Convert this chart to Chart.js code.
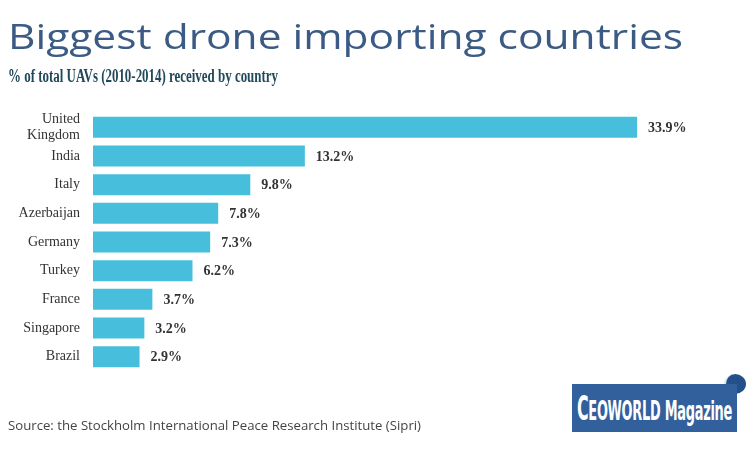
<!doctype html>
<html lang="en">
<head>
  <meta charset="utf-8">
  <title>Biggest drone importing countries</title>
  <script src="https://cdn.jsdelivr.net/npm/chart.js"></script>
  <style>
    html,body{margin:0;padding:0;background:#fff;}
    .page{position:relative;width:750px;height:450px;overflow:hidden;}
    .page canvas{position:absolute;left:0;top:0;}
    .fit{position:absolute;white-space:nowrap;transform-origin:0 0;}
    #title{left:8px;top:12px;font:500 35px "Open Sans",sans-serif;color:#3b5b84;}
    #subtitle{left:8px;top:66px;font:700 18px "Liberation Serif",serif;color:#21495a;}
    #source{left:8px;top:416px;font:400 13px "Open Sans",sans-serif;color:#444;}
    /* logo */
    .globe{position:absolute;left:724px;top:374px;width:20px;height:20px;border-radius:50%;background:#234f8a;border-left:2px solid #dfe6ef;}
    .logo{position:absolute;left:572px;top:384px;width:165px;height:48px;background:#31609c;}
    .logo .txt{position:absolute;left:5px;top:5px;color:#fff;font:700 27px "Liberation Sans Narrow","DejaVu Sans Condensed",sans-serif;white-space:nowrap;transform-origin:0 0;letter-spacing:-.5px;}
    .logo .txt .big{font-size:33px;}
  </style>
</head>
<body>
  <div class="page">
    <canvas id="chart" width="750" height="450"></canvas>
    <div id="title" class="fit" data-w="675">Biggest drone importing countries</div>
    <div id="subtitle" class="fit" data-w="270">% of total UAVs (2010-2014) received by country</div>
    <div id="source" class="fit" data-w="413">Source: the Stockholm International Peace Research Institute (Sipri)</div>
    <div class="globe"></div>
    <div class="logo"><span class="txt" data-w="155"><span class="big">C</span>EOWORLD Magazine</span></div>
  </div>

  <script>
    /* ─── data ─── */
    const COUNTRIES = [['United','Kingdom'],'India','Italy','Azerbaijan','Germany','Turkey','France','Singapore','Brazil'];
    const SHARES    = [33.9,13.2,9.8,7.8,7.3,6.2,3.7,3.2,2.9];

    const BAR = '#47bfdc';

    // stretch text boxes to the widths seen in the picture
    document.querySelectorAll('[data-w]').forEach(el=>{
      el.style.display = 'inline-block';
      const w = el.getBoundingClientRect().width;
      el.style.transform = `scaleX(${(+el.dataset.w)/w})`;
    });

    const valueLabels={
      id:'valueLabels',
      afterDatasetsDraw(chart){
        const {ctx}=chart;
        const meta=chart.getDatasetMeta(0);
        ctx.save();
        ctx.font='bold 14px "Liberation Serif", serif';
        ctx.fillStyle='#333';
        ctx.textAlign='left';
        ctx.textBaseline='middle';
        meta.data.forEach((bar,i)=>{
          ctx.fillText(SHARES[i].toFixed(1)+'%', bar.x+11, bar.y+1);
        });
        ctx.restore();
      }
    };

    new Chart(document.getElementById('chart'),{
      type:'bar',
      data:{labels:COUNTRIES,datasets:[{
        data:SHARES, backgroundColor:BAR, borderWidth:0,
        barPercentage:0.73, categoryPercentage:1
      }]},
      options:{
        indexAxis:'y',
        responsive:false, animation:false,
        layout:{padding:{left:8,top:113,bottom:79,right:15}},
        plugins:{legend:{display:false},tooltip:{enabled:false}},
        scales:{
          x:{display:false,min:0,max:40},
          y:{
            grid:{display:false},border:{display:false},
            afterFit(s){s.width=85;},
            ticks:{color:'#333',padding:5,autoSkip:false,
                   font:{family:'"Liberation Serif", serif',size:14}}
          }
        }
      },
      plugins:[valueLabels]
    });
  </script>
</body>
</html>
